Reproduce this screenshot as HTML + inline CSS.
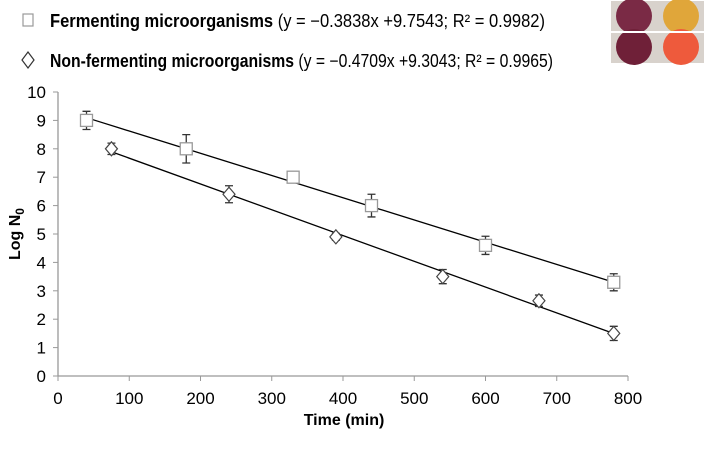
<!DOCTYPE html>
<html><head><meta charset="utf-8"><style>
body{margin:0;background:#fff;font-family:"Liberation Sans",Arial,sans-serif;}
svg text{font-family:"Liberation Sans",Arial,sans-serif;}
</style></head><body>
<svg id="c" width="708" height="445" xmlns="http://www.w3.org/2000/svg">
<g>
 <rect x="23" y="14" width="10" height="12" fill="none" stroke="#999" stroke-width="1.2"/>
 <text x="50" y="27" font-size="18" textLength="495" lengthAdjust="spacingAndGlyphs"><tspan font-weight="bold">Fermenting microorganisms</tspan> (y = −0.3838x +9.7543; R² = 0.9982)</text>
 <path d="M22 60 L28 52 L34 60 L28 68 Z" fill="none" stroke="#333" stroke-width="1.2"/>
 <text x="50" y="67" font-size="18" textLength="503" lengthAdjust="spacingAndGlyphs"><tspan font-weight="bold">Non-fermenting microorganisms</tspan> (y = −0.4709x +9.3043; R² = 0.9965)</text>
</g>
<g>
 <rect x="611" y="1" width="93" height="62" fill="#d8d2cc"/>
 <circle cx="634" cy="16" r="18" fill="#7a2a45"/>
 <circle cx="681" cy="16" r="18" fill="#e0a63a"/>
 <line x1="611" y1="32" x2="704" y2="32" stroke="#fff" stroke-width="2"/>
 <circle cx="634" cy="47" r="18" fill="#6f2038"/>
 <circle cx="681" cy="47" r="18" fill="#ee5a3c"/>
 <line x1="611" y1="32" x2="704" y2="32" stroke="#fff" stroke-width="2"/>
</g>
<g id="axes"></g>
<g id="plot"></g>
<text x="0" y="0" transform="translate(20,234) rotate(-90)" text-anchor="middle" font-size="16" font-weight="bold">Log N<tspan font-size="12" dy="4">0</tspan></text>
<text x="344" y="425" text-anchor="middle" font-size="16" font-weight="bold">Time (min)</text>
</svg>
<script>
const xTicks=[0,100,200,300,400,500,600,700,800];
const yTicks=[0,1,2,3,4,5,6,7,8,9,10];
const fermX=[40,180,330,440,600,780];
const fermY=[9.0,8.0,7.0,6.0,4.6,3.3];
const fermErr=[0.32,0.5,0.2,0.4,0.32,0.3];
const nonX=[75,240,390,540,675,780];
const nonY=[8.0,6.4,4.9,3.5,2.65,1.5];
const nonErr=[0.2,0.3,0.12,0.25,0.2,0.25];
const NS='http://www.w3.org/2000/svg';
const X=v=>58+v*0.7125, Y=v=>376-v*28.4;
function mk(t,a,p){const e=document.createElementNS(NS,t);for(const k in a)e.setAttribute(k,a[k]);p.appendChild(e);return e;}
const ax=document.getElementById('axes'), pl=document.getElementById('plot');
const ya=mk('line',{x1:X(0),y1:Y(0),x2:X(0),y2:Y(10),stroke:'#999','stroke-width':1.3},ax);


const xa=mk('line',{x1:X(0),y1:Y(0),x2:X(800),y2:Y(0),stroke:'#999','stroke-width':1.3},ax);


yTicks.forEach(v=>{mk('line',{x1:X(0)-5,y1:Y(v),x2:X(0),y2:Y(v),stroke:'#999'},ax);
 const t=mk('text',{x:X(0)-12,y:Y(v)+6,'text-anchor':'end','font-size':17},ax);t.textContent=v;
 
 });
xTicks.forEach(v=>{mk('line',{x1:X(v),y1:Y(0),x2:X(v),y2:Y(0)+5,stroke:'#999'},ax);
 const t=mk('text',{x:X(v),y:Y(0)+28,'text-anchor':'middle','font-size':17},ax);t.textContent=v;
 
 });
function fit(xs,ys){const n=xs.length,mx=xs.reduce((a,b)=>a+b)/n,my=ys.reduce((a,b)=>a+b)/n;let sxy=0,sxx=0;xs.forEach((x,i)=>{sxy+=(x-mx)*(ys[i]-my);sxx+=(x-mx)**2});const b=sxy/sxx;return [b,my-b*mx];}
function series(xs,ys,es,shape,name){
 const [b,a]=fit(xs,ys);const x0=xs[0],x1=xs[xs.length-1];
 const l=mk('line',{x1:X(x0),y1:Y(a+b*x0),x2:X(x1),y2:Y(a+b*x1),stroke:'#000','stroke-width':1.3},pl);
 
 
 xs.forEach((x,i)=>{const cx=X(x),cy=Y(ys[i]),e=es[i];
  const g=mk('path',{d:`M${cx} ${Y(ys[i]+e)}V${Y(ys[i]-e)}M${cx-4} ${Y(ys[i]+e)}h8M${cx-4} ${Y(ys[i]-e)}h8`,stroke:'#333','stroke-width':1.3,fill:'none'},pl);
  
  
  let m;
  if(shape==='sq') m=mk('rect',{x:cx-6,y:cy-6,width:12,height:12,fill:'#fff',stroke:'#999','stroke-width':1.3},pl);
  else m=mk('path',{d:`M${cx-6} ${cy}L${cx} ${cy-7}L${cx+6} ${cy}L${cx} ${cy+7}Z`,fill:'#fff',stroke:'#444','stroke-width':1.2},pl);
  
  
 });
}
series(fermX,fermY,fermErr,'sq','fermenting');
series(nonX,nonY,nonErr,'di','nonfermenting');
</script>
</body></html>
